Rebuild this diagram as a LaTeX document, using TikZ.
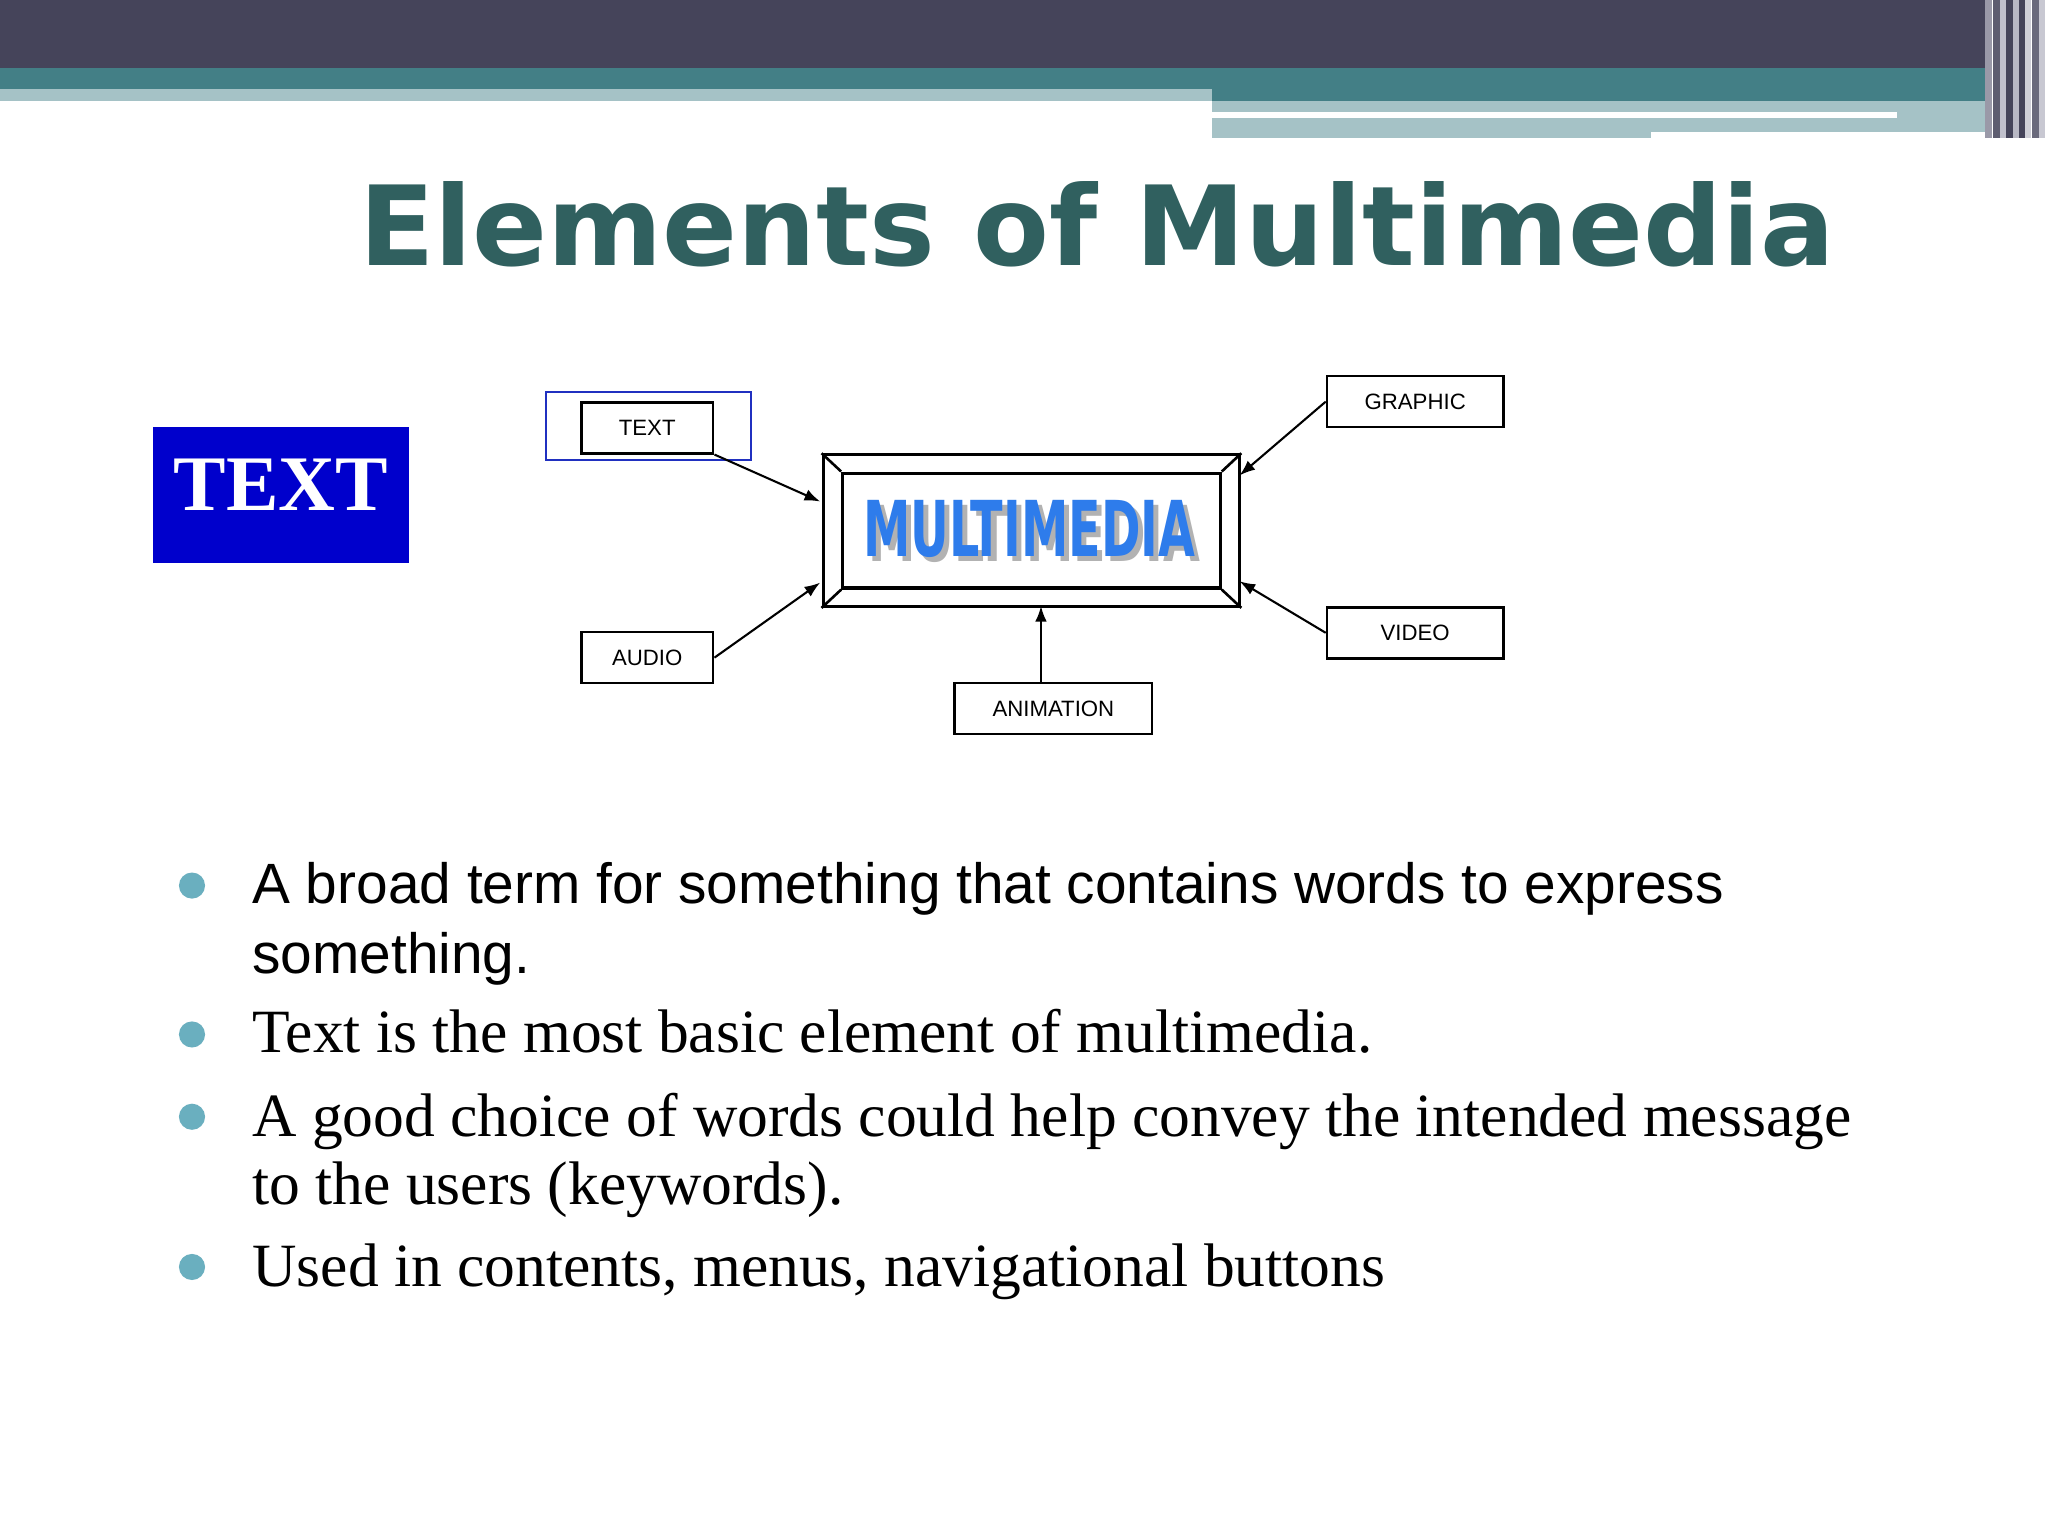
\documentclass[tikz,border=0pt]{standalone}
\usepackage{fontspec}
\setmainfont{Liberation Serif}
\setsansfont{Liberation Sans}
\newfontfamily\titlefont{DejaVu Sans}
\newfontfamily\condfont{DejaVu Sans Condensed}
\definecolor{darkbar}{HTML}{45445A}
\definecolor{tealbar}{HTML}{437F86}
\definecolor{lightbar}{HTML}{A5C2C6}
\definecolor{titlecol}{HTML}{30605F}
\definecolor{bulletcol}{HTML}{6AAFBF}
\definecolor{bluebox}{HTML}{0000CC}
\definecolor{mmblue}{HTML}{2E7CEB}
\tikzset{
  lbl/.style={draw=black,line width=2pt,font=\sffamily\fontsize{17}{17}\selectfont,inner sep=0pt,anchor=north west},
  arr/.style={-{Latex[length=12pt,width=9pt]},line width=1.6pt},
  bul/.style={circle,fill=bulletcol,minimum size=20pt,inner sep=0pt},
  btext/.style={anchor=base west,inner sep=0pt},
  sanst/.style={font=\sffamily\fontsize{43.5}{43.5}\selectfont},
  serift/.style={font=\fontsize{47.1}{47.1}\selectfont}
}
\usetikzlibrary{arrows.meta}
\newcommand{\mmword}{\resizebox{254pt}{43pt}{\condfont\bfseries MULTIMEDIA}}
\begin{document}
\begin{tikzpicture}[x=1pt,y=-1pt]
\useasboundingbox (0,0) rectangle (1568,1176);
\fill[white] (0,0) rectangle (1568,1176);
% header
\fill[darkbar] (0,0) rectangle (1520,52);
\fill[tealbar] (0,52) rectangle (1520,68);
\fill[lightbar] (0,68) rectangle (928,77);
\fill[tealbar] (928,68) rectangle (1520,77);
\fill[lightbar] (928,77) rectangle (1520,106);
\fill[white] (928,86) rectangle (1452,90);
\fill[white] (1264,101) rectangle (1520,106);
\foreach \x/\c in {1520/9A99A8,1526/5E5D70,1531/C0C0CC,1536/45445A,1541/B8B8C4,1546/45445A,1550/D0D0D8,1556/6A6A7C,1561/C8C8D2}{
  \definecolor{tmp}{HTML}{\c}\fill[tmp] (\x,0) rectangle ++(5,106);}
% title
\node[anchor=base,inner sep=0pt,text=titlecol] (title) at (840,203)
  {\resizebox{1130pt}{!}{\titlefont\bfseries Elements of Multimedia}};
% blue TEXT box
\node[fill=bluebox,minimum width=196pt,minimum height=104pt,anchor=north west,inner sep=0pt] (tb) at (117,327) {};
\node[text=white,inner sep=0pt] at ([yshift=8pt]tb.center) {\resizebox{164pt}{!}{\bfseries TEXT}};
% diagram
\draw[color={rgb,255:red,32;green,48;blue,192},line width=1.6pt] (418,300) rectangle (575,352);
\node[lbl,minimum width=101pt,minimum height=39pt] (t) at (444,307) {TEXT};
\node[lbl,minimum width=135pt,minimum height=39pt] (g) at (1015,287) {GRAPHIC};
\node[lbl,minimum width=101pt,minimum height=39pt] (a) at (444,483) {AUDIO};
\node[lbl,minimum width=135pt,minimum height=39pt] (v) at (1015,464) {VIDEO};
\node[lbl,minimum width=151pt,minimum height=39pt] (an) at (730,522) {ANIMATION};
\node[draw,line width=2.4pt,minimum width=319pt,minimum height=116pt,anchor=north west,inner sep=0pt] (mm) at (629,347) {};
\node[draw,line width=2.4pt,minimum width=289pt,minimum height=88pt,anchor=north west,inner sep=0pt] (mi) at (644,361) {};
\foreach \c in {north west,north east,south west,south east}{\draw[line width=2pt] (mm.\c) -- (mi.\c);}
\node[inner sep=0pt] (mmt) at (788,407) {\rlap{\hspace{4pt}\raisebox{-4pt}{\color{gray!60}\mmword}}{\color{mmblue}\mmword}};
\draw[arr] (t.south east) -- (628,384);
\draw[arr] (a.east) -- (628,446);
\draw[arr] (g.west) -- (949,364);
\draw[arr] (v.west) -- (949,445);
\draw[arr] (an.north -| 797,0) -- (797,464);
% bullets
\node[bul] (b1) at (147,678) {};
\node[bul] (b2) at (147,792) {};
\node[bul] (b3) at (147,855) {};
\node[bul] (b4) at (147,970) {};
\node[btext,sanst] at (193,692) {A broad term for something that contains words to express};
\node[btext,sanst] at (193,745) {something.};
\node[btext,serift] at (193,806) {Text is the most basic element of multimedia.};
\node[btext,serift] at (193,870) {A good choice of words could help convey the intended message};
\node[btext,serift] at (193,922) {to the users (keywords).};
\node[btext,serift] at (193,985) {Used in contents, menus, navigational buttons};
\end{tikzpicture}
\end{document}
